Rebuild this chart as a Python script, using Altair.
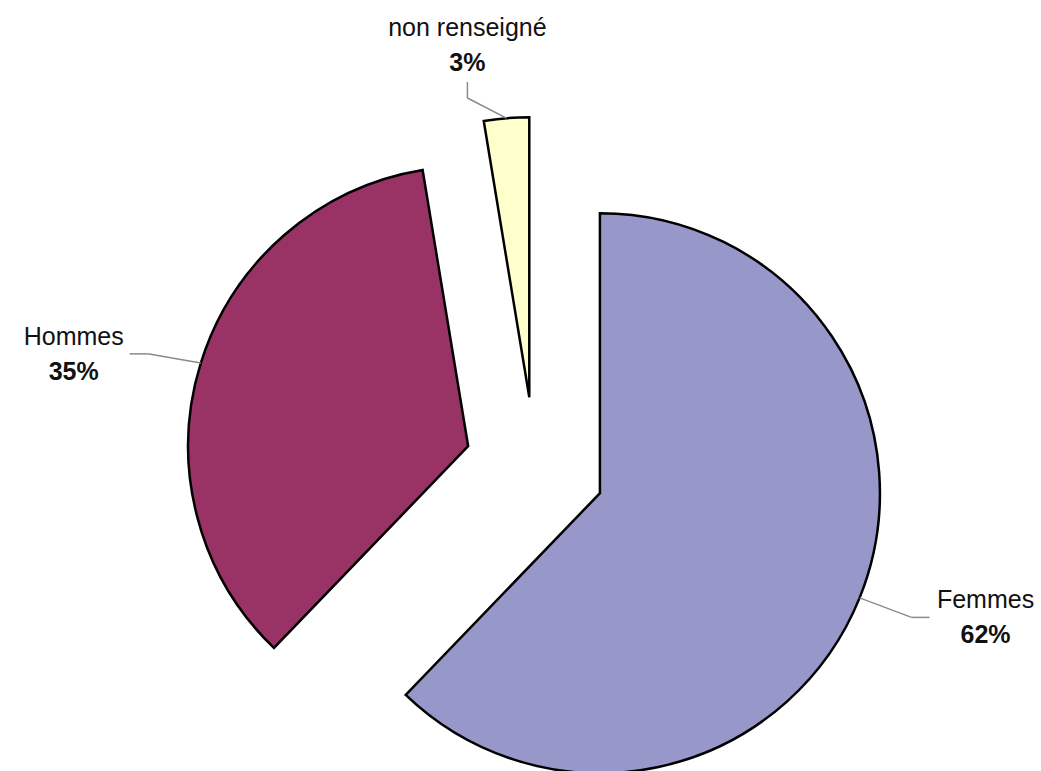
import altair as alt
import pandas as pd

# Répartition par sexe
categories = ["Femmes", "Hommes", "non renseigné"]
values = [62.2, 35.2, 2.6]
colors = ["#9797C9", "#993366", "#FFFFCC"]

W, H = 1041, 771
CX, CY = 535, 467      # centre of the pie before explosion
R = 280                 # slice radius
EXPLODE = 70            # outward shift of every slice
LR = 475                # radius of the label anchors
FONT = "Liberation Sans"
FS = 25

df = pd.DataFrame({
    "category": categories,
    "value": values,
    "order": list(range(len(categories))),
})

base = (
    alt.Chart(df)
    .transform_joinaggregate(total="sum(value)")
    .transform_window(cum="sum(value)", sort=[alt.SortField("order")], frame=[None, 0])
    .transform_calculate(
        pct="datum.value / datum.total",
        t0="(datum.cum - datum.value) / datum.total * 2 * PI",
        t1="datum.cum / datum.total * 2 * PI",
    )
    .transform_calculate(mid="(datum.t0 + datum.t1) / 2")
    .transform_calculate(
        cx=f"{CX} + {EXPLODE} * sin(datum.mid)",
        cy=f"{CY} - {EXPLODE} * cos(datum.mid)",
        ex=f"{CX} + {EXPLODE + R} * sin(datum.mid)",
        ey=f"{CY} - {EXPLODE + R} * cos(datum.mid)",
        la="datum.mid - 3.5 * PI / 180",
    )
    .transform_calculate(
        lx=f"{CX} + {LR} * sin(datum.la)",
        ly=f"max({CY} - {LR} * cos(datum.la), 45)",
        side="abs(sin(datum.la)) > 0.5 ? (sin(datum.la) > 0 ? 1 : -1) : 0",
    )
    .transform_calculate(
        endx="datum.side != 0 ? datum.lx - datum.side * 56 : datum.lx",
        endy="datum.side != 0 ? datum.ly : datum.ly + 37",
    )
    .transform_calculate(
        kx="datum.side != 0 ? datum.endx - datum.side * 18 : datum.lx",
        ky="datum.side != 0 ? datum.ly : datum.ly + 53",
    )
)

px = lambda f: alt.X(f"{f}:Q", scale=None, axis=None)
py = lambda f: alt.Y(f"{f}:Q", scale=None, axis=None)

slices = base.mark_arc(stroke="black", strokeWidth=2.5, radius=R).encode(
    theta=alt.Theta("t0:Q", scale=None, stack=None),
    theta2="t1:Q",
    x=px("cx"),
    y=py("cy"),
    color=alt.Color("category:N", scale=alt.Scale(domain=categories, range=colors), legend=None),
)

leader1 = base.mark_rule(color="#8a8a8a", strokeWidth=1.5).encode(
    x=px("ex"), y=py("ey"), x2="kx:Q", y2="ky:Q"
)
leader2 = base.mark_rule(color="#8a8a8a", strokeWidth=1.5).encode(
    x=px("kx"), y=py("ky"), x2="endx:Q", y2="endy:Q"
)

name_text = base.mark_text(
    font=FONT, fontSize=FS, color="#111111", align="center", baseline="middle", dy=-17
).encode(x=px("lx"), y=py("ly"), text="category:N")

pct_text = base.mark_text(
    font=FONT, fontSize=FS, fontWeight="bold", color="#111111", align="center", baseline="middle", dy=18
).encode(x=px("lx"), y=py("ly"), text=alt.Text("pct:Q", format=".0%"))

chart = (
    alt.layer(slices, leader1, leader2, name_text, pct_text)
    .properties(width=W, height=H, autosize=alt.AutoSizeParams(type="none"), padding=0, background="white")
    .configure_view(stroke=None)
)

chart.save("out.html", embed_options={"renderer": "svg", "actions": False})
